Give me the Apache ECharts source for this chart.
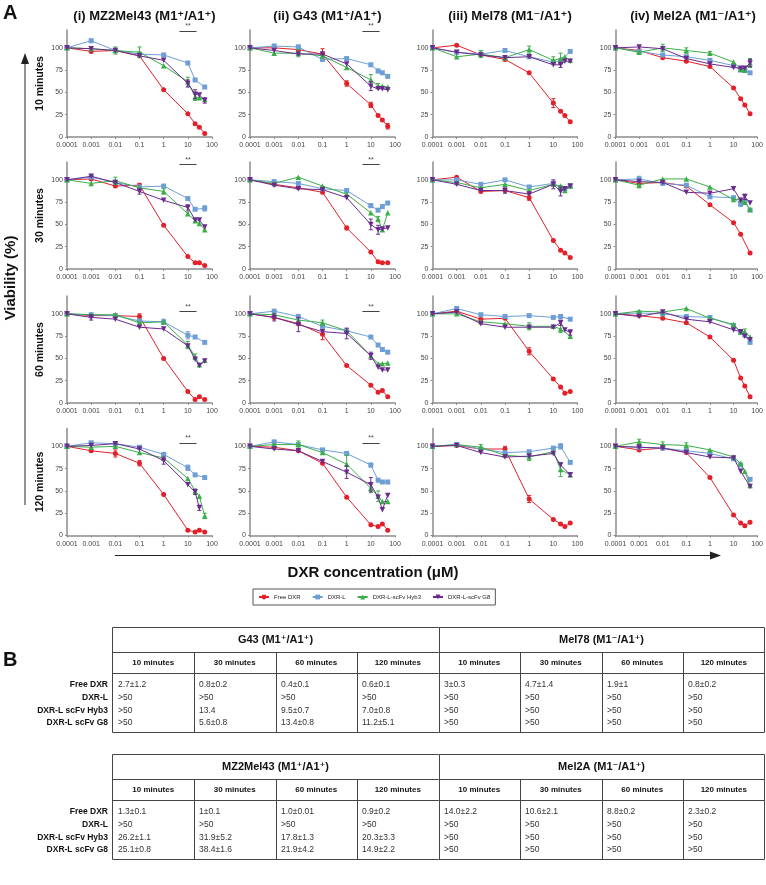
<!DOCTYPE html>
<html><head><meta charset="utf-8">
<script src="https://cdn.jsdelivr.net/npm/echarts@6/dist/echarts.min.js"></script>
<style>html,body{margin:0;padding:0;background:#fff}#c{width:766px;height:885px}</style>
</head><body><div id="c"></div>
<script>
// ---------------- DATA ----------------
const concentrations = [0.0001, 0.001, 0.01, 0.1, 1, 10, 20, 30, 50];
const xTickLabels = ['0.0001', '0.001', '0.01', '0.1', '1', '10', '100'];
const yTickValues = [0, 25, 50, 75, 100];
const seriesNames = ['Free DXR', 'DXR-L', 'DXR-L-scFv Hyb3', 'DXR-L-scFv G8'];
const panelTitles = ['(i) MZ2Mel43 (M1\u207A/A1\u207A)', '(ii) G43 (M1\u207A/A1\u207A)', '(iii) Mel78 (M1\u207B/A1\u207A)', '(iv) Mel2A (M1\u207B/A1\u207A)'];
const timeLabels = ['10 minutes', '30 minutes', '60 minutes', '120 minutes'];

// each panel: [Free DXR, DXR-L, DXR-L-scFv Hyb3, DXR-L-scFv G8] viability (%)
const mz2mel43_10 = [[100,96,97,91,53,26,15,11,4],[100,108,97,93,92,83,64,null,56],[100,99,97,95,80,62,45,44,42],[100,99,97,91,86,60,48,47,41]];
const g43_10      = [[100,100,98,93,60,36,24,19,12],[100,102,101,87,88,81,74,72,68],[100,94,94,91,78,64,57,57,56],[100,97,93,93,82,57,54,54,53]];
const mel78_10    = [[100,103,92,87,72,38,29,24,17],[100,95,93,97,90,84,85,null,96],[100,90,93,89,98,86,88,90,86],[100,95,92,89,90,81,81,85,85]];
const mel2a_10    = [[100,97,89,85,79,55,43,36,26],[100,96,92,90,86,80,75,75,72],[100,95,100,97,94,84,76,75,83],[100,101,99,88,82,78,77,77,83]];

const mz2mel43_30 = [[100,101,93,94,49,14,7,7,4],[100,103,97,92,93,79,67,null,68],[100,96,99,91,87,62,54,51,44],[100,104,97,87,77,69,55,55,47]];
const g43_30      = [[100,95,91,86,46,19,8,7,7],[100,98,96,90,88,71,66,70,74],[100,96,103,93,84,63,56,44,63],[100,94,90,89,80,50,44,45,46]];
const mel78_30    = [[100,103,87,88,80,32,21,18,13],[100,100,95,100,92,96,91,90,93],[100,97,91,95,88,95,93,88,93],[100,95,88,88,84,95,87,90,93]];
const mel2a_30    = [[100,96,97,93,72,52,39,null,18],[100,101,96,94,81,80,73,76,66],[100,94,101,101,92,78,78,75,67],[100,98,97,86,85,90,77,81,74]];

const mz2mel43_60 = [[100,98,98,97,50,13,4,7,4],[100,99,98,92,91,76,74,null,68],[100,99,99,90,91,65,52,43,48],[100,96,94,85,83,64,49,42,47]];
const g43_60      = [[100,96,89,77,42,20,12,14,7],[100,103,97,86,81,74,65,60,57],[100,99,93,90,81,53,44,44,45],[100,96,88,80,78,53,40,37,37]];
const mel78_60    = [[100,103,94,95,58,27,18,11,13],[100,106,99,97,98,96,97,null,94],[100,100,91,89,86,86,83,null,75],[100,102,89,85,85,85,90,82,79]];
const mel2a_60    = [[100,98,95,90,74,48,28,19,7],[100,101,100,97,96,87,79,76,68],[100,103,102,106,95,88,80,80,74],[100,97,102,94,91,82,80,75,71]];

const mz2mel43_120 = [[100,95,92,81,46,6,4,6,4],[100,104,103,99,91,76,68,null,65],[100,99,100,93,87,64,50,44,22],[100,101,103,97,84,57,49,31,null]];
const g43_120      = [[100,99,95,81,43,12,10,13,6],[100,105,102,96,92,79,62,60,60],[100,102,102,93,80,53,44,38,38],[100,97,95,83,71,57,43,29,45]];
const mel78_120    = [[100,101,97,97,41,18,13,10,14],[100,102,97,93,94,98,100,null,82],[100,102,99,90,88,94,74,null,68],[100,101,93,88,89,92,79,null,68]];
const mel2a_120    = [[100,96,98,93,65,23,14,11,15],[100,99,98,95,92,86,79,null,63],[100,105,102,101,96,88,81,72,56],[100,99,98,93,88,87,72,null,55]];

// error bars: [seriesIndex, concentrationIndex, +/- value]
const mz2mel43_10_err = [[2,2,4],[2,3,6],[2,5,5],[3,5,4],[3,6,5],[3,8,3],[2,6,4]];
const g43_10_err      = [[0,3,6],[2,2,4],[1,1,2],[1,2,2],[0,4,3],[0,5,3],[2,5,6],[3,5,5],[0,8,3],[1,6,2],[2,6,3]];
const mel78_10_err    = [[2,2,4],[2,4,4],[2,5,4],[2,6,6],[3,6,3],[0,5,5]];
const mel2a_10_err    = [[2,2,4],[2,3,3],[2,8,5],[3,8,4],[2,4,2]];
const mz2mel43_30_err = [[2,2,4],[0,3,2],[3,3,3],[2,4,3],[3,5,3],[2,5,2],[1,8,3]];
const g43_30_err      = [[3,5,6],[3,6,5],[2,6,3],[0,4,2],[1,5,2]];
const mel78_30_err    = [[3,5,5],[3,6,5],[0,4,3],[3,3,3]];
const mel2a_30_err    = [[1,1,3],[2,1,3],[3,7,3],[1,6,3]];
const mz2mel43_60_err = [[0,3,3],[3,1,3],[1,5,4],[2,5,4],[1,4,3],[2,6,3]];
const g43_60_err      = [[3,1,4],[3,2,8],[0,3,6],[3,4,6],[3,5,4],[2,3,3]];
const mel78_60_err    = [[0,4,4],[2,4,4],[2,6,4],[3,6,3],[3,8,3]];
const mel2a_60_err    = [[2,7,3]];
const mz2mel43_120_err = [[0,2,4],[0,3,3],[3,4,4],[1,5,3],[3,6,3],[3,7,3],[2,8,3]];
const g43_120_err      = [[2,2,4],[2,4,10],[3,4,7],[3,5,8],[2,5,5],[2,6,6],[1,5,2]];
const mel78_120_err    = [[2,2,3],[0,3,3],[0,4,4],[2,4,4],[1,6,3],[2,6,8],[3,8,2]];
const mel2a_120_err    = [[2,1,3],[2,2,3],[2,3,3]];

// significance bars (concentration range, height per time row) for columns (i) and (ii)
const sigRange = [4.5, 23];
const sigHeights = [119, 117, 103, 104];
const sigColumns = [0, 1];

// IC50 tables
const tblRowLabels = ['Free DXR', 'DXR-L', 'DXR-L scFv Hyb3', 'DXR-L scFv G8'];
const tblTitlesTop = ['G43 (M1\u207A/A1\u207A)', 'Mel78 (M1\u207B/A1\u207A)'];
const tblTitlesBottom = ['MZ2Mel43 (M1\u207A/A1\u207A)', 'Mel2A (M1\u207B/A1\u207A)'];
const tblG43 = [['2.7\u00B11.2','0.8\u00B10.2','0.4\u00B10.1','0.6\u00B10.1'],['>50','>50','>50','>50'],['>50','13.4','9.5\u00B10.7','7.0\u00B10.8'],['>50','5.6\u00B10.8','13.4\u00B10.8','11.2\u00B15.1']];
const tblMel78 = [['3\u00B10.3','4.7\u00B11.4','1.9\u00B11','0.8\u00B10.2'],['>50','>50','>50','>50'],['>50','>50','>50','>50'],['>50','>50','>50','>50']];
const tblMZ2Mel43 = [['1.3\u00B10.1','1\u00B10.1','1.0\u00B10.01','0.9\u00B10.2'],['>50','>50','>50','>50'],['26.2\u00B11.1','31.9\u00B15.2','17.8\u00B11.3','20.3\u00B13.3'],['25.1\u00B10.8','38.4\u00B11.6','21.9\u00B14.2','14.9\u00B12.2']];
const tblMel2A = [['14.0\u00B12.2','10.6\u00B12.1','8.8\u00B10.2','2.3\u00B10.2'],['>50','>50','>50','>50'],['>50','>50','>50','>50'],['>50','>50','>50','>50']];

// ---------------- BUILD ----------------
const panels = [
  [mz2mel43_10, g43_10, mel78_10, mel2a_10],
  [mz2mel43_30, g43_30, mel78_30, mel2a_30],
  [mz2mel43_60, g43_60, mel78_60, mel2a_60],
  [mz2mel43_120, g43_120, mel78_120, mel2a_120]
];
const panelErrors = [
  [mz2mel43_10_err, g43_10_err, mel78_10_err, mel2a_10_err],
  [mz2mel43_30_err, g43_30_err, mel78_30_err, mel2a_30_err],
  [mz2mel43_60_err, g43_60_err, mel78_60_err, mel2a_60_err],
  [mz2mel43_120_err, g43_120_err, mel78_120_err, mel2a_120_err]
];

const FONT = '"Liberation Sans", Arial, "DejaVu Sans", sans-serif';
const colors = ['#e3202a', '#6d9fd6', '#3aaf48', '#6a2a8e'];
const symbols = ['circle', 'rect', 'triangle', 'triangle'];
const symRot = [0, 0, 0, 180];
const symSize = [5, 5, 5.5, 5.5];
const colX = [67, 250, 432.5, 615.5];
const rowY = [30, 162, 296, 428.5];
const GW = 145, GH = 107;
const AXIS_COLOR = '#8c8c8c';

function renderErr(params, api) {
  const x = api.value(0), y = api.value(1), e = api.value(2);
  const t = api.coord([x, y + e]);
  const b = api.coord([x, y - e]);
  const c = api.visual('color');
  const st = { stroke: c, lineWidth: 1 };
  return { type: 'group', children: [
    { type: 'line', shape: { x1: t[0], y1: t[1], x2: b[0], y2: b[1] }, style: st },
    { type: 'line', shape: { x1: t[0] - 2, y1: t[1], x2: t[0] + 2, y2: t[1] }, style: st },
    { type: 'line', shape: { x1: b[0] - 2, y1: b[1], x2: b[0] + 2, y2: b[1] }, style: st }
  ]};
}

const grid = [], xAxis = [], yAxis = [], series = [], title = [];
for (let c = 0; c < 4; c++) {
  title.push({ text: panelTitles[c], left: colX[c] + GW / 2, top: 5, textAlign: 'center',
    textStyle: { fontSize: 13, fontWeight: 'bold', color: '#111', fontFamily: FONT } });
}
for (let r = 0; r < 4; r++) {
  for (let c = 0; c < 4; c++) {
    const p = r * 4 + c;
    grid.push({ left: colX[c], top: rowY[r], width: GW, height: GH });
    xAxis.push({
      type: 'log', logBase: 10, gridIndex: p, min: 0.0001, max: 100, splitNumber: 6,
      axisLine: { lineStyle: { color: AXIS_COLOR, width: 1.5 } },
      axisTick: { show: true, length: 2, lineStyle: { color: AXIS_COLOR } },
      minorTick: { show: false }, splitLine: { show: false },
      axisLabel: { fontSize: 7, color: '#444', margin: 5, fontFamily: FONT,
        formatter: v => xTickLabels[Math.round(Math.log10(v)) + 4] }
    });
    yAxis.push({
      type: 'value', gridIndex: p, min: 0, max: 120, interval: 25,
      name: c === 0 ? timeLabels[r] : '', nameLocation: 'middle', nameRotate: 90, nameGap: 21,
      nameTextStyle: { fontSize: 10.5, fontWeight: 'bold', color: '#111', fontFamily: FONT },
      axisLine: { show: true, lineStyle: { color: AXIS_COLOR, width: 1.5 } },
      axisTick: { show: true, length: 2, customValues: yTickValues, lineStyle: { color: AXIS_COLOR } },
      splitLine: { show: false },
      axisLabel: { fontSize: 7, color: '#444', margin: 4, fontFamily: FONT, customValues: yTickValues }
    });
    const vals = panels[r][c];
    const errs = panelErrors[r][c];
    for (let s = 0; s < 4; s++) {
      const data = concentrations.map((x, i) => [x, vals[s][i]]).filter(d => d[1] != null);
      const ser = {
        type: 'line', name: seriesNames[s], xAxisIndex: p, yAxisIndex: p, data,
        symbol: symbols[s], symbolSize: symSize[s], symbolRotate: symRot[s], showSymbol: true,
        lineStyle: { color: colors[s], width: 1 }, itemStyle: { color: colors[s] },
        z: 3 + s, animation: false, silent: true
      };
      if (s === 0 && sigColumns.includes(c)) {
        ser.markLine = {
          silent: true, symbol: 'none', animation: false,
          lineStyle: { color: '#444', width: 1, type: 'solid' },
          label: { show: true, formatter: '**', position: 'middle', fontSize: 7, color: '#444', distance: 1 },
          data: [[{ coord: [sigRange[0], sigHeights[r]] }, { coord: [sigRange[1], sigHeights[r]] }]]
        };
      }
      series.push(ser);
      const eData = errs.filter(e => e[0] === s && vals[s][e[1]] != null)
        .map(e => [concentrations[e[1]], vals[s][e[1]], e[2]]);
      if (eData.length) {
        series.push({ type: 'custom', xAxisIndex: p, yAxisIndex: p, data: eData, renderItem: renderErr,
          itemStyle: { color: colors[s] }, encode: { x: 0, y: 1 }, z: 3 + s, animation: false, silent: true });
      }
    }
  }
}

// graphics
const G = [];
const txt = (x, y, text, o) => Object.assign({ type: 'text', x, y, silent: true,
  style: Object.assign({ text, fill: '#111', fontFamily: FONT, align: 'left', verticalAlign: 'middle' }, o || {}) });
const ln = (x1, y1, x2, y2, col, w) => ({ type: 'line', silent: true, shape: { x1, y1, x2, y2 },
  style: { stroke: col || '#444', lineWidth: w || 1 } });

G.push(txt(3, 13, 'A', { fontSize: 20, fontWeight: 'bold' }));
G.push(txt(3, 660, 'B', { fontSize: 20, fontWeight: 'bold' }));
G.push(Object.assign(txt(11, 278, 'Viability (%)', { fontSize: 15, fontWeight: 'bold', align: 'center' }), { rotation: Math.PI / 2 }));
G.push(ln(25, 505, 25, 62, '#222', 1));
G.push({ type: 'polygon', silent: true, shape: { points: [[21, 64], [29, 64], [25, 53]] }, style: { fill: '#222' } });
G.push(ln(115, 555.5, 712, 555.5, '#222', 1));
G.push({ type: 'polygon', silent: true, shape: { points: [[710, 551.5], [710, 559.5], [721, 555.5]] }, style: { fill: '#222' } });
G.push(txt(373, 573, 'DXR concentration (\u03BCM)', { fontSize: 15, fontWeight: 'bold', align: 'center' }));

function table(top, titles, blockA, blockB) {
  const x0 = 112.5, x1 = 764.5, cw = (x1 - x0) / 8;
  const t1 = top + 25.5, t2 = top + 46.5, bot = top + 105.5;
  G.push({ type: 'rect', silent: true, shape: { x: x0, y: top + 0.5, width: x1 - x0, height: 105 },
    style: { fill: 'none', stroke: '#444', lineWidth: 1 } });
  G.push(ln(x0, t1, x1, t1));
  G.push(ln(x0, t2, x1, t2));
  for (let k = 1; k < 8; k++) {
    const x = Math.round(x0 + k * cw) + 0.5;
    G.push(ln(x, k === 4 ? top + 0.5 : t1, x, bot));
  }
  for (let h = 0; h < 2; h++) {
    G.push(txt(x0 + (2 + 4 * h) * cw, top + 13, titles[h], { fontSize: 11, fontWeight: 'bold', align: 'center' }));
  }
  for (let k = 0; k < 8; k++) {
    G.push(txt(x0 + (k + 0.5) * cw, top + 36, timeLabels[k % 4], { fontSize: 8, fontWeight: 'bold', align: 'center' }));
  }
  for (let i = 0; i < 4; i++) {
    const y = top + 58 + 12.7 * i;
    G.push(txt(108, y, tblRowLabels[i], { fontSize: 8.5, fontWeight: 'bold', align: 'right' }));
    for (let k = 0; k < 8; k++) {
      const block = k < 4 ? blockA : blockB;
      G.push(txt(Math.round(x0 + k * cw) + 5, y, block[i][k % 4], { fontSize: 8.5, fill: '#333' }));
    }
  }
}
table(627, tblTitlesTop, tblG43, tblMel78);
table(754, tblTitlesBottom, tblMZ2Mel43, tblMel2A);

const option = {
  animation: false,
  backgroundColor: '#fff',
  textStyle: { fontFamily: FONT },
  title,
  grid, xAxis, yAxis, series,
  legend: {
    data: seriesNames, left: 253, top: 589, orient: 'horizontal',
    borderColor: '#555', borderWidth: 1, padding: [5, 5, 5, 5], itemGap: 11,
    itemWidth: 10, itemHeight: 6, selectedMode: false,
    textStyle: { fontSize: 6, color: '#222', fontFamily: FONT }
  },
  graphic: G
};
const chart = echarts.init(document.getElementById('c'), null, { renderer: 'canvas', width: 766, height: 885 });
chart.setOption(option);
</script>
</body></html>
